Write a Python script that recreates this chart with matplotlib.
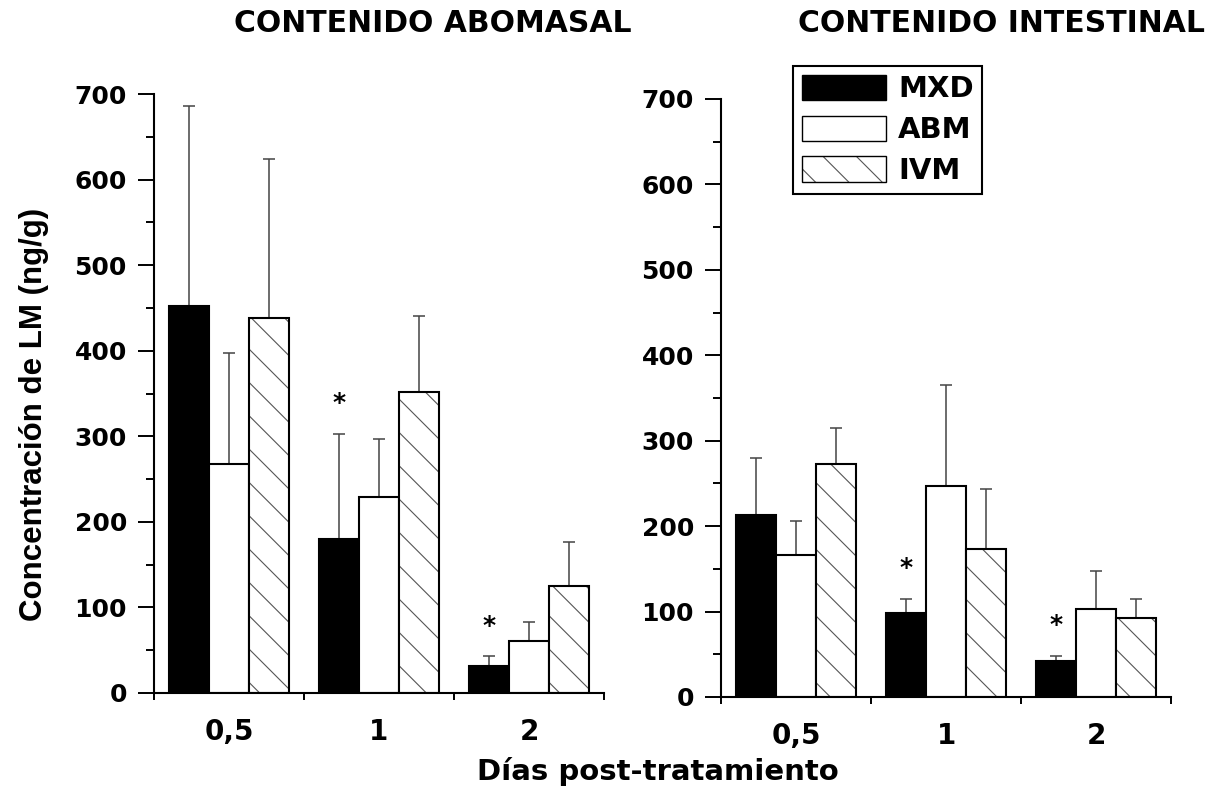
import numpy as np
import matplotlib
matplotlib.use('Agg')
import matplotlib.pyplot as plt
from matplotlib.patches import Patch
from matplotlib.ticker import MultipleLocator

days = ['0,5', '1', '2']
drugs = ['MXD', 'ABM', 'IVM']

# contenido abomasal: media y DE (ng/g)
abo_mxd = [452, 180, 31]
abo_mxd_sd = [234, 123, 12]
abo_abm = [268, 229, 61]
abo_abm_sd = [129, 68, 22]
abo_ivm = [438, 352, 125]
abo_ivm_sd = [186, 89, 51]

# contenido intestinal
int_mxd = [213, 98, 42]
int_mxd_sd = [67, 17, 6]
int_abm = [166, 247, 103]
int_abm_sd = [40, 118, 45]
int_ivm = [273, 173, 93]
int_ivm_sd = [42, 71, 22]

# dias con diferencia significativa para MXD
abo_sig = [1, 2]
int_sig = [1, 2]

HATCH = '#555555'
ERR = '#444444'

plt.rcParams['font.family'] = 'DejaVu Sans'
plt.rcParams['font.weight'] = 'bold'
plt.rcParams['hatch.linewidth'] = 0.8


def panel(ax, series, sig):
    x = np.arange(len(days)) + 0.5
    w = 0.8 / 3
    for k, (vals, sd) in enumerate(series):
        pos = x + (k - 1) * w
        ax.errorbar(pos, vals, yerr=[np.zeros(len(sd)), sd], fmt='none',
                    ecolor=ERR, elinewidth=1.1, capsize=4.6, capthick=1.1, zorder=1)
        if k == 0:
            ax.bar(pos, vals, w, color='black', edgecolor='black', lw=1.5, zorder=2)
        elif k == 1:
            ax.bar(pos, vals, w, color='white', edgecolor='black', lw=1.5, zorder=2)
        else:
            ax.bar(pos, vals, w, color='white', edgecolor=HATCH, hatch='\\', lw=0, zorder=2)
            ax.bar(pos, vals, w, fill=False, edgecolor='black', lw=1.5, zorder=3)
    mxd, mxd_sd = series[0]
    for i in sig:
        ax.annotate('*', xy=(x[i] - w, mxd[i] + mxd_sd[i]), xytext=(0, 22),
                    textcoords='offset points', ha='center', va='center', fontsize=18)

    ax.set_xlim(0, 3)
    ax.set_ylim(0, 700)
    ax.set_xticks([0, 1, 2, 3])
    ax.set_xticklabels([])
    ax.set_xticks(x, minor=True)
    ax.set_xticklabels(days, minor=True)
    ax.tick_params(axis='x', which='major', direction='out', length=5, width=1.4)
    ax.tick_params(axis='x', which='minor', length=0, pad=18, labelsize=20)
    ax.yaxis.set_major_locator(MultipleLocator(100))
    ax.yaxis.set_minor_locator(MultipleLocator(50))
    ax.tick_params(axis='y', which='major', length=11.5, width=1.4, labelsize=18, pad=8)
    ax.tick_params(axis='y', which='minor', length=5.8, width=1.4)
    for s in ['top', 'right']:
        ax.spines[s].set_visible(False)
    for s in ['left', 'bottom']:
        ax.spines[s].set_linewidth(1.5)


W, H = 1216, 788
fig = plt.figure(figsize=(W / 100, H / 100), dpi=100)
ax1 = fig.add_axes([154 / W, 1 - 693 / H, 450 / W, 599 / H])
ax2 = fig.add_axes([721 / W, 1 - 697 / H, 450 / W, 598 / H])

panel(ax1, [(abo_mxd, abo_mxd_sd), (abo_abm, abo_abm_sd), (abo_ivm, abo_ivm_sd)], abo_sig)
panel(ax2, [(int_mxd, int_mxd_sd), (int_abm, int_abm_sd), (int_ivm, int_ivm_sd)], int_sig)

fig.text(433 / W, 1 - 23 / H, 'CONTENIDO ABOMASAL', ha='center', va='center', fontsize=21.5)
fig.text(1002 / W, 1 - 24 / H, 'CONTENIDO INTESTINAL', ha='center', va='center', fontsize=21.5)
fig.text(658 / W, 1 - 771 / H, 'Días post-tratamiento', ha='center', va='center', fontsize=21)
fig.text(34 / W, 1 - 414 / H, 'Concentración de LM (ng/g)', rotation=90, ha='center',
         va='center', fontsize=22.5, family='Liberation Sans')

handles = [Patch(facecolor='black', edgecolor='black'),
           Patch(facecolor='white', edgecolor='black'),
           (Patch(facecolor='white', edgecolor=HATCH, hatch='\\', lw=0),
            Patch(fill=False, edgecolor='black'))]
leg = fig.legend(handles, drugs, loc='upper left', bbox_to_anchor=(793 / W, 1 - 66 / H),
                 bbox_transform=fig.transFigure, borderaxespad=0, fancybox=False,
                 edgecolor='black', framealpha=1, fontsize=21, handlelength=2.9,
                 handleheight=0.95, labelspacing=0.42, handletextpad=0.4, borderpad=0.3)
leg.get_frame().set_linewidth(1.5)

fig.savefig('out.png', dpi=100)
